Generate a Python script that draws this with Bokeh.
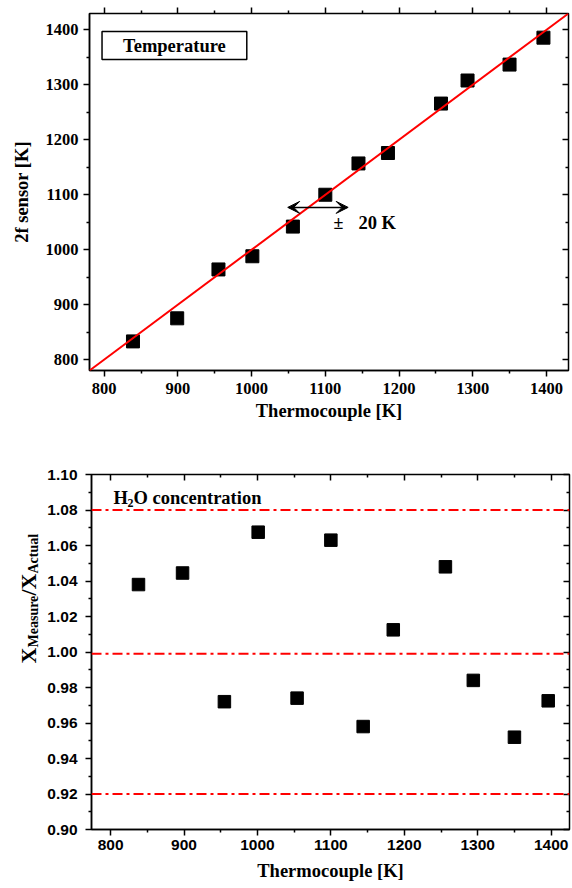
import math
from bokeh.plotting import figure
from bokeh.models import (Range1d, LinearAxis, FixedTicker, Slope, Span, Label,
                          Arrow, VeeHead, PrintfTickFormatter)
from bokeh.layouts import column, row
from bokeh.embed import file_html
from bokeh.resources import INLINE

# ---------------- data ----------------
tc_temp = [839, 899, 955, 1001, 1056, 1100, 1145, 1185, 1257, 1293, 1350, 1396]
sensor_temp = [833, 875, 964, 988, 1042, 1100, 1157, 1176, 1266, 1308, 1337, 1386]

h2o_tc = [838, 898, 955, 1001, 1054, 1100, 1144, 1185, 1256, 1294, 1350, 1396]
h2o_ratio = [1.038, 1.0445, 0.972, 1.0675, 0.974, 1.063, 0.958, 1.0125, 1.048, 0.984, 0.952, 0.9725]

limit_lines = [1.08, 0.999, 0.92]

temp_ticks = [800, 900, 1000, 1100, 1200, 1300, 1400]
temp_minor = [750, 850, 950, 1050, 1150, 1250, 1350, 1450]
ratio_ticks = [0.90, 0.92, 0.94, 0.96, 0.98, 1.00, 1.02, 1.04, 1.06, 1.08, 1.10]
ratio_minor = [0.91, 0.93, 0.95, 0.97, 0.99, 1.01, 1.03, 1.05, 1.07, 1.09]

SERIF = "Liberation Serif"
SANS = "Liberation Sans"


def style_axis(ax, ticks, minor, font, size, standoff):
    ax.ticker = FixedTicker(ticks=ticks, minor_ticks=minor)
    ax.axis_line_color = "black"
    ax.axis_line_width = 1.5
    ax.major_tick_line_color = "black"
    ax.minor_tick_line_color = "black"
    ax.major_tick_line_width = 1.5
    ax.minor_tick_line_width = 1.5
    ax.major_tick_out = 6
    ax.major_tick_in = 0
    ax.minor_tick_out = 3
    ax.minor_tick_in = 0
    ax.major_label_text_font = font
    ax.major_label_text_font_style = "bold"
    ax.major_label_text_font_size = size
    ax.major_label_text_color = "black"
    ax.major_label_standoff = standoff


def tick_axis(p, side, positions, t_in, t_out):
    # an axis that only draws tick marks (no labels, no line)
    ax = LinearAxis(ticker=FixedTicker(ticks=[], minor_ticks=positions))
    ax.axis_line_color = None
    ax.minor_tick_line_color = "black"
    ax.minor_tick_line_width = 1.5
    ax.minor_tick_in = t_in
    ax.minor_tick_out = t_out
    ax.major_tick_in = 0
    ax.major_tick_out = 0
    ax.major_label_standoff = 0
    p.add_layout(ax, side)


def title_style(ax, text, standoff):
    ax.axis_label = text
    ax.axis_label_text_font = SERIF
    ax.axis_label_text_font_style = "bold"
    ax.axis_label_text_font_size = "18.5px"
    ax.axis_label_text_color = "black"
    ax.axis_label_standoff = standoff


# ---------------- top figure ----------------
p1 = figure(width=572, height=432, x_range=Range1d(780, 1430), y_range=Range1d(780, 1430),
            output_backend="svg", toolbar_location=None,
            min_border_left=89, min_border_right=4, min_border_top=13, min_border_bottom=62)
p1.grid.visible = False
p1.outline_line_color = "black"
p1.outline_line_width = 1.5
p1.background_fill_color = "white"
p1.border_fill_color = "white"

style_axis(p1.xaxis[0], temp_ticks, temp_minor, SERIF, "16.5px", 6)
style_axis(p1.yaxis[0], temp_ticks, temp_minor, SERIF, "16.5px", 5)
title_style(p1.xaxis[0], "Thermocouple [K]", 4)
title_style(p1.yaxis[0], "2f sensor [K]", 11)

# top: outward ticks; right: inward ticks
tick_axis(p1, "above", temp_minor, 0, 3)
tick_axis(p1, "above", temp_ticks, 3, 3)
tick_axis(p1, "right", temp_ticks, 6, 0)
tick_axis(p1, "right", temp_minor, 3, 0)

p1.add_layout(Slope(gradient=1, y_intercept=0, line_color="#ff0000", line_width=2))
p1.scatter(tc_temp, sensor_temp, marker="square", size=13, fill_color="black", line_color="black")

p1.add_layout(Arrow(x_start=1049, y_start=1077, x_end=1131, y_end=1077, line_width=1.5,
                    line_color="black",
                    start=VeeHead(size=12, fill_color="black", line_color="black"),
                    end=VeeHead(size=12, fill_color="black", line_color="black")))
p1.add_layout(Label(x=1111, y=1048, text="±", text_font=SERIF, text_font_style="bold",
                    text_font_size="18px", text_baseline="middle", text_align="left",
                    text_color="black"))
p1.add_layout(Label(x=1145, y=1048, text="20 K", text_font=SERIF, text_font_style="bold",
                    text_font_size="18.5px", text_baseline="middle", text_align="left",
                    text_color="black"))
p1.add_layout(Label(x=797, y=1397, text="Temperature", text_font=SERIF, text_font_style="bold",
                    text_font_size="18.5px", text_align="left", text_baseline="top",
                    text_color="black",
                    padding=dict(left=21, right=21, top=4, bottom=4),
                    border_line_color="black", border_line_width=1.5,
                    background_fill_color="white"))

# ---------------- bottom figure ----------------
p2 = figure(width=532, height=456, x_range=Range1d(774, 1425), y_range=Range1d(0.90, 1.10),
            output_backend="svg", toolbar_location=None,
            min_border_left=51, min_border_right=3, min_border_top=42, min_border_bottom=59)
p2.grid.visible = False
p2.outline_line_color = "black"
p2.outline_line_width = 1.5
p2.background_fill_color = "white"
p2.border_fill_color = "white"

style_axis(p2.xaxis[0], temp_ticks, temp_minor, SANS, "15.5px", 4)
style_axis(p2.yaxis[0], ratio_ticks, ratio_minor, SANS, "15.5px", 8)
p2.yaxis[0].formatter = PrintfTickFormatter(format="%.2f")
title_style(p2.xaxis[0], "Thermocouple [K]", 8)

# top and right: inward ticks
tick_axis(p2, "above", temp_ticks, 6, 0)
tick_axis(p2, "above", temp_minor, 3, 0)
tick_axis(p2, "right", ratio_ticks, 6, 0)
tick_axis(p2, "right", ratio_minor, 3, 0)

for v in limit_lines:
    p2.add_layout(Span(location=v, dimension="width", line_color="#ff0000", line_width=2,
                       line_dash="10 4 3 4"))

p2.scatter(h2o_tc, h2o_ratio, marker="square", size=12.5, fill_color="black", line_color="black")

lab_kw = dict(x_units="screen", y_units="screen", text_font=SERIF, text_font_style="bold",
              text_align="left", text_baseline="alphabetic", text_color="black")
# H2O concentration (subscript 2)
p2.add_layout(Label(x=22, y=332, text="H", text_font_size="18.5px", **lab_kw))
p2.add_layout(Label(x=36, y=327, text="2", text_font_size="12px", **lab_kw))
p2.add_layout(Label(x=42, y=332, text="O concentration", text_font_size="18.5px", **lab_kw))

# narrow panel holding the rotated y title  X_Measure / X_Actual
pl = figure(width=40, height=456, x_range=Range1d(0, 1), y_range=Range1d(0, 1),
            output_backend="svg", toolbar_location=None, x_axis_type=None, y_axis_type=None,
            min_border=0, min_border_left=0, min_border_right=0, min_border_top=0,
            min_border_bottom=0)
pl.grid.visible = False
pl.outline_line_color = None
pl.background_fill_color = "white"
pl.border_fill_color = "white"

rot = dict(lab_kw, angle=math.pi / 2)
pl.add_layout(Label(x=28, y=166, text="X", text_font_size="22px", **rot))
pl.add_layout(Label(x=33, y=182, text="Measure", text_font_size="14px", **rot))
pl.add_layout(Label(x=28, y=234, text="/", text_font_size="22px", **rot))
pl.add_layout(Label(x=28, y=240, text="X", text_font_size="22px", **rot))
pl.add_layout(Label(x=33, y=256, text="Actual", text_font_size="14px", **rot))

layout = column(p1, row(pl, p2, spacing=0), spacing=0)
open("out.html", "w").write(file_html(layout, INLINE))
